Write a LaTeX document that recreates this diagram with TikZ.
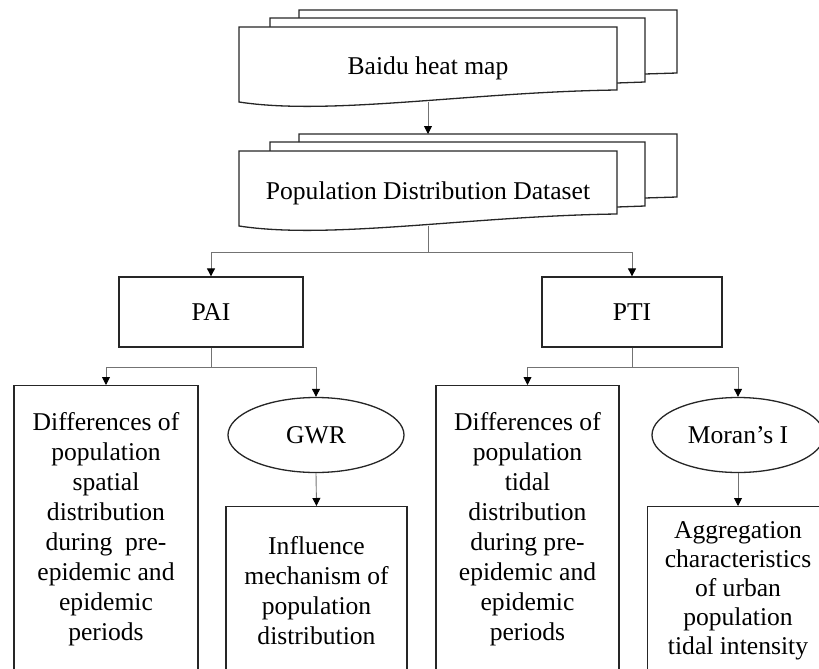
\documentclass[tikz,border=0pt]{standalone}
\usepackage{fontspec}
\setmainfont{Liberation Serif}
\usetikzlibrary{shapes.geometric,arrows.meta,calc}
\tikzset{
  txt/.style={inner sep=0pt, align=center, font=\fontsize{25.6}{30}\selectfont},
  boxn/.style={txt, draw=black!85, line width=1.3pt, fill=white},
  ell/.style={txt, ellipse, draw=black!85, line width=1.3pt, fill=white},
  docline/.style={draw=black!85, line width=1.3pt, line join=miter},
  conn/.style={draw=black!55, line width=0.9pt},
  arr/.style={conn, -{Triangle[length=8pt,width=8pt,color=black]}}
}
\begin{document}
\begin{tikzpicture}[x=1pt,y=-1pt]
\useasboundingbox (0,0) rectangle (819,669);

% ---------- top multi-document: Baidu heat map ----------
\foreach \dy in {0,124}{
  \draw[docline] (299,18+\dy) -- (299,10+\dy) -- (677,10+\dy) -- (677,73+\dy) -- (645,74+\dy);
  \draw[docline] (270,27+\dy) -- (270,18+\dy) -- (645,18+\dy) -- (645,82+\dy) -- (617,83+\dy);
  \draw[docline, fill=white] (239,27+\dy) -- (617,27+\dy) -- (617,90+\dy)
     .. controls (470,92+\dy) and (330,116+\dy) .. (239,102+\dy) -- cycle;
}
\node[txt] (baidu) at (428,68) {Baidu heat map};
\node[txt] (pdd) at (428,193) {Population Distribution Dataset};

\coordinate (bwave) at (428,102);
\coordinate (dstop) at (428,134);
\coordinate (dwave) at (428,226);
\coordinate (split1) at (428,252);

% ---------- second level ----------
\node[boxn, minimum width=184pt, minimum height=70pt] (pai) at (211,312) {PAI};
\node[boxn, minimum width=180pt, minimum height=70pt] (pti) at (632,312) {PTI};

\coordinate (split2) at (211,367);
\coordinate (split3) at (632,367);

% ---------- third level ----------
\node[boxn, minimum width=184pt, minimum height=288pt, anchor=north] (diffa) at (106,385)
  {Differences of\\population\\spatial\\distribution\\during\ \ pre-\\epidemic and\\epidemic\\periods};
\node[ell, minimum width=176pt, minimum height=75pt] (gwr) at (316,435) {GWR};
\node[boxn, minimum width=181pt, minimum height=168pt, anchor=north] (infl) at (316.5,506)
  {Influence\\mechanism of\\population\\distribution};

\node[boxn, minimum width=183pt, minimum height=288pt, anchor=north] (diffb) at (527.5,385)
  {Differences of\\population\\tidal\\distribution\\during pre-\\epidemic and\\epidemic\\periods};
\node[ell, minimum width=172pt, minimum height=75pt] (moran) at (738,435) {Moran’s I};
\node[txt, draw=black!85, line width=1.3pt, minimum width=181pt, minimum height=169pt, anchor=north, font=\fontsize{25.6}{29}\selectfont] (aggr) at (738,506)
  {Aggregation\\characteristics\\of urban\\population\\tidal intensity};

% ---------- connectors ----------
\draw[arr] (bwave) -- (dstop);
\draw[conn] (dwave) -- (split1);
\draw[arr] (split1) -| (pai.north);
\draw[arr] (split1) -| (pti.north);

\draw[conn] (pai.south) -- (split2);
\draw[arr] (split2) -| (diffa.north);
\draw[arr] (split2) -| (gwr.north);

\draw[conn] (pti.south) -- (split3);
\draw[arr] (split3) -| (diffb.north);
\draw[arr] (split3) -| (moran.north);

\draw[arr] (gwr.south) -- (infl.north);
\draw[arr] (moran.south) -- (aggr.north);
\end{tikzpicture}
\end{document}
